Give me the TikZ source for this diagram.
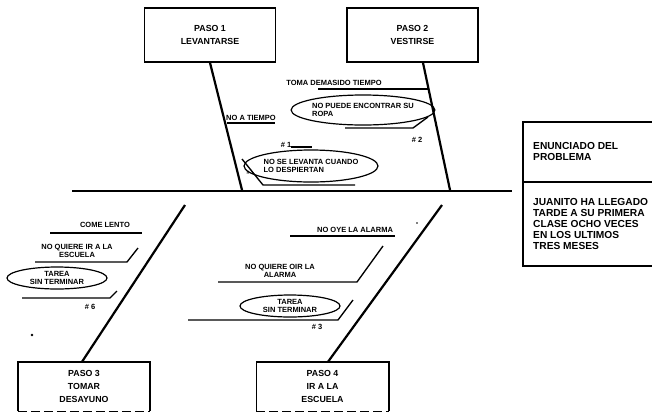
\documentclass[tikz,border=0pt]{standalone}
\usepackage{fontspec}
\setmainfont{Liberation Sans}
\usetikzlibrary{shapes.geometric,calc}
\begin{document}
\begin{tikzpicture}[x=1pt,y=-1pt,
  stepbox/.style={draw, line width=1.6pt, minimum width=131pt, minimum height=54pt, align=center, inner sep=0pt, font=\bfseries\fontsize{8.8}{12.5}\selectfont},
  openbox/.style={minimum width=132pt, minimum height=49pt, align=center, inner sep=0pt, font=\bfseries\fontsize{8.8}{13}\selectfont},
  bone/.style={line width=2.2pt},
  spine/.style={line width=1.8pt},
  sub/.style={line width=1.35pt},
  lbl/.style={inner sep=0pt, align=center, font=\bfseries\fontsize{7.5}{8.5}\selectfont},
  oval/.style={draw, ellipse, line width=1.2pt, inner sep=0pt, align=center, font=\bfseries\fontsize{7.5}{8.5}\selectfont},
  probtxt/.style={inner sep=0pt, align=left, anchor=west, font=\bfseries\fontsize{10.2}{11.2}\selectfont}
]
\useasboundingbox (0,0) rectangle (652,413);
% spine
\coordinate (sl) at (72,191);
\coordinate (sr) at (512,191);
\draw[spine] (sl) -- (sr);
% step boxes
\node[stepbox] (p1) at (210,35) {PASO 1\\LEVANTARSE};
\node[stepbox] (p2) at (412.5,35) {PASO 2\\VESTIRSE};
\node[openbox] (p3) at (84,386.5) {PASO 3\\TOMAR\\DESAYUNO};
\node[openbox] (p4) at (322.5,386.5) {PASO 4\\IR A LA\\ESCUELA};
\foreach \b in {p3,p4}{
  \draw[line width=1.6pt] (\b.south west) -- (\b.north west) -- (\b.north east) -- (\b.south east);
  \draw[line width=1.2pt, dash pattern=on 9pt off 4pt] (\b.south west) -- (\b.south east);
}
% bones
\coordinate (e1) at (242,190);
\coordinate (e2) at (450,190);
\coordinate (e3) at (185,205);
\coordinate (e4) at (442,205);
\draw[bone] (p1.south) -- (e1);
\draw[bone] ([xshift=10.5pt]p2.south) -- (e2);
\draw[bone] ([xshift=-2pt]p3.north) -- (e3);
\draw[bone] ([xshift=5.5pt]p4.north) -- (e4);
% problem statement box
\coordinate (rb1) at (523,122);
\coordinate (rb2) at (660,122);
\coordinate (rb3) at (660,266);
\coordinate (rb4) at (523,266);
\draw[line width=1.6pt] (rb2) -- (rb1) -- (rb4) -- (rb3);
\draw[line width=1.5pt] (523,182) -- (660,182);
\node[probtxt] (enun) at (533,151.5) {ENUNCIADO DEL\\PROBLEMA};
\node[probtxt] (juan) at (533,224) {JUANITO HA LLEGADO\\TARDE A SU PRIMERA\\CLASE OCHO VECES\\EN LOS ULTIMOS\\TRES MESES};
% --- Paso 1 causes
\node[lbl] (t1) at (251,118) {NO A TIEMPO};
\draw[sub] (227,123) -- (275,123);
\node[oval, minimum width=118pt, minimum height=32pt, align=left] (o1) at (311,166) {NO SE LEVANTA CUANDO\\LO DESPIERTAN};
\draw[sub] (242,159) -- (263,185) -- (355,185);
\node[lbl] (n1) at (286,145) {\# 1};
\draw[sub] (291,147) -- (312,147);
\node[lbl, font=\bfseries\fontsize{5}{6}\selectfont] (m1) at (248,173) {\#};
% --- Paso 2 causes
\node[lbl] (t2) at (334,83) {TOMA DEMASIDO TIEMPO};
\draw[sub] (318,89) -- (428,89);
\node[oval, minimum width=130pt, minimum height=30pt, align=left] (o2) at (363,110) {NO PUEDE ENCONTRAR SU\\ROPA};
\draw[sub] (345,128) -- (413,128) -- (428,117);
\node[lbl] (n2) at (417,140) {\# 2};
% --- Paso 3 causes
\node[lbl] (t3) at (105,225) {COME LENTO};
\draw[sub] (50,233) -- (142,233);
\node[lbl] (t4) at (77,251) {NO QUIERE IR A LA\\ESCUELA};
\draw[sub] (35,262) -- (127,262) -- (138,248);
\node[oval, minimum width=100pt, minimum height=22pt] (o3) at (57,278) {TAREA\\SIN TERMINAR};
\draw[sub] (22,298) -- (110,298) -- (117,291);
\node[lbl] (n3) at (90,307) {\# 6};
\fill (32,335) circle (1.3pt);
% --- Paso 4 causes
\node[lbl] (t5) at (355,230) {NO OYE LA ALARMA};
\draw[sub] (290,236) -- (395,236);
\node[lbl] (t6) at (280,271) {NO QUIERE OIR LA\\ALARMA};
\draw[sub] (218,282) -- (357,282) -- (383,246);
\node[oval, minimum width=100pt, minimum height=22pt] (o4) at (290,306) {TAREA\\SIN TERMINAR};
\draw[sub] (188,320) -- (338,320) -- (353,300);
\node[lbl] (n4) at (317,327) {\# 3};
\fill (417,223) circle (0.8pt);
\end{tikzpicture}
\end{document}
